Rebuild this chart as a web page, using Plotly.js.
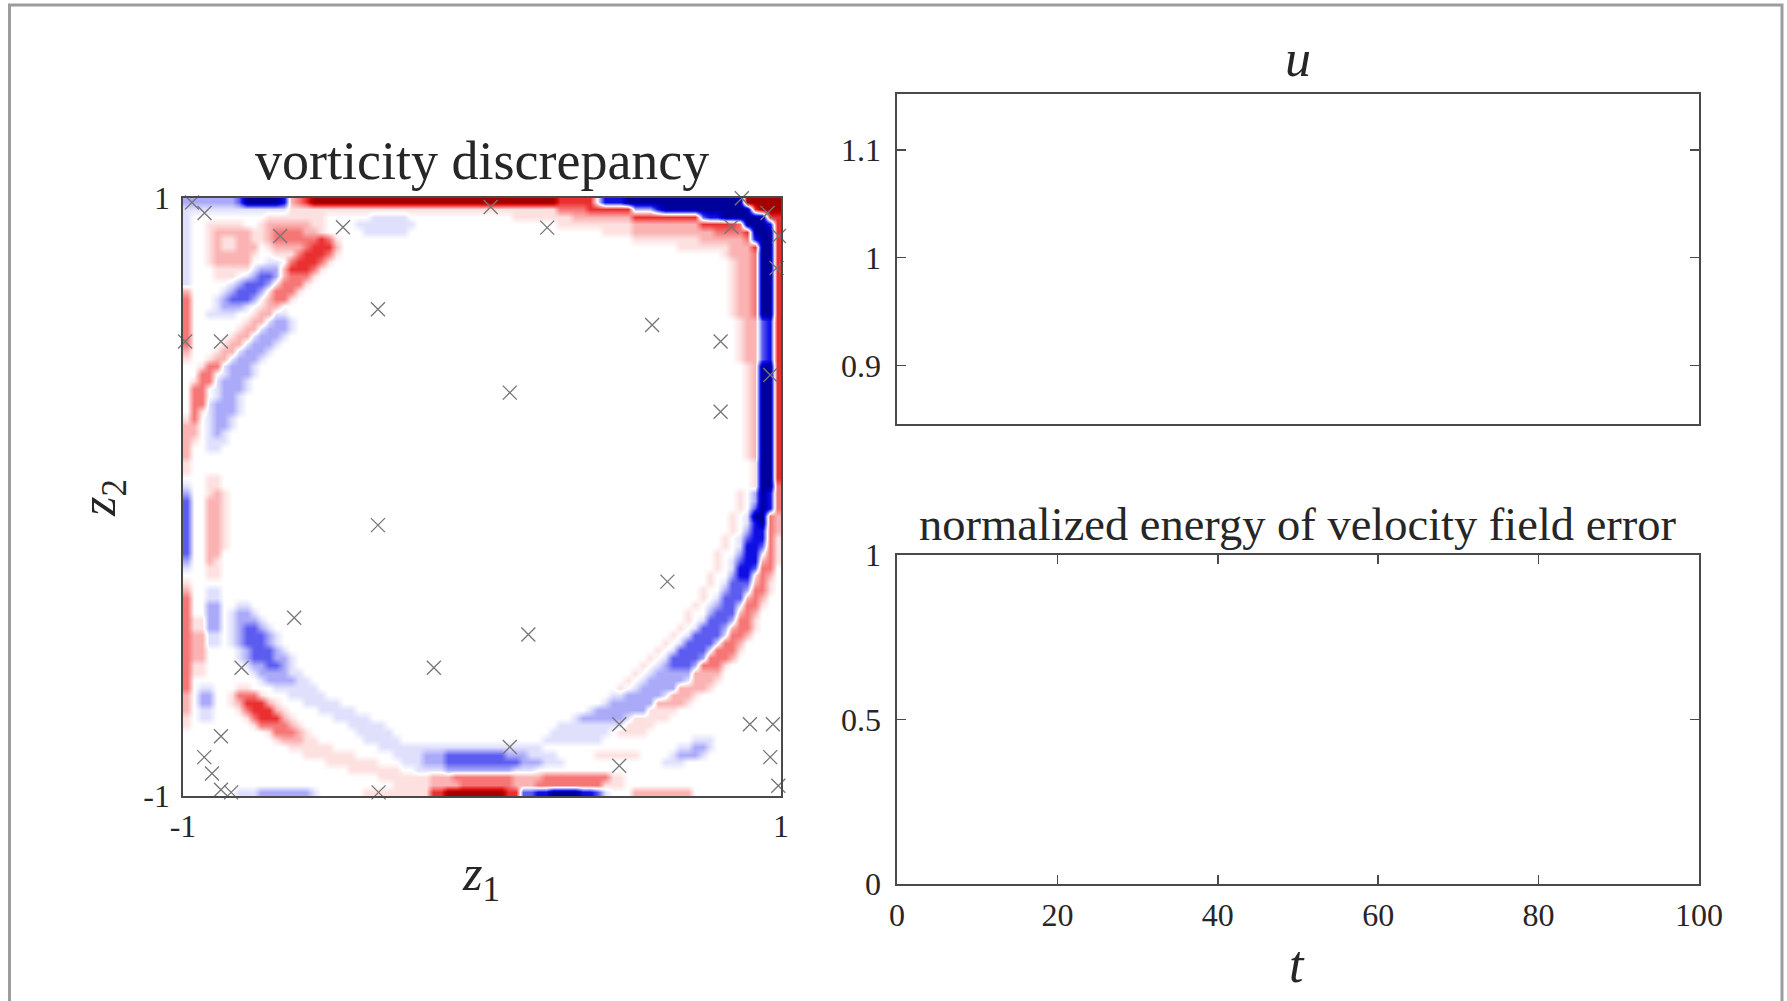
<!DOCTYPE html>
<html><head><meta charset="utf-8">
<script src="https://cdn.plot.ly/plotly-3.0.1.min.js"></script>
<style>html,body{margin:0;padding:0;background:#fff;overflow:hidden}#chart{width:1787px;height:1001px}</style>
</head><body><div id="chart"></div>
<script>
// ---------- data ----------
// vorticity discrepancy on an 80 x 80 grid (row 0 = top, z2 = 1), runs "from-to=level"
const gridSize = 80;
const levelValues = {'.':0,'1':0.08,'2':0.2,'3':0.38,'4':0.58,'5':0.95,'a':-0.08,'b':-0.22,'c':-0.42,'d':-0.65,'e':-0.95};
const vorticityRows = [
"0-6=b 7=c 8-12=e 13=d 14=2 15=3 16=4 17-49=5 50-54=4 55=a 56-58=d 59-74=e 75-79=5",
"0-13=a 14-49=1 50-53=3 54-59=4 60-62=b 63=d 64-75=e 76=4 77-79=5",
"0=a 11-18=1 25-29=a 44-51=1 52-59=2 60-68=4 69=c 70-71=d 72-77=e 78-79=4",
"0=a 3-7=1 10=1 11-16=2 17-18=1 23-30=a 50-59=1 60-68=2 69-73=4 74=3 75-77=e 78=d 79=4",
"0=a 3=1 4-8=2 9=1 10=1 11=2 12-15=3 16-17=2 18=1 24-29=a 56-59=1 60-70=2 71-74=3 75=4 76-78=e 79=4",
"0=a 3=1 4=2 5-6=1 7-8=2 9=1 10=1 11=2 12-17=3 18=4 19=3 20=1 60-68=1 69-74=2 75=3 76=d 77-78=e 79=4",
"0=a 3=1 4=2 5-6=1 7-9=2 11=1 12-15=2 16=3 17-19=4 20=2 66-72=1 73-75=2 76=4 77-78=e 79=4",
"0=a 3=1 4-8=2 9=1 12-14=1 15=3 16-18=4 19=3 20=1 72=1 73-75=2 76=3 77-78=e 79=4",
"0=a 3=1 4-8=2 11-12=a 14=3 15-17=4 18=3 19=1 73=1 74-75=2 76=3 77-78=e 79=4",
"0=a 4-8=1 9=a 10-12=b 13=2 14-16=4 17=3 18=1 73=1 74-75=2 76=3 77-78=e 79=4",
"0=a 4-6=1 8=a 9=b 10-11=c 12=b 13=2 14-16=3 17=1 73=1 74-75=2 76=3 77-78=e 79=4",
"0=a 6=a 7=b 8-10=c 11=b 12=1 13-15=3 16=1 73=1 74-75=2 76=3 77-78=e 79=4",
"0=2 5=a 6=b 7-9=c 10=b 11=1 12-14=3 15=1 73=1 74-75=2 76=3 77-78=e 79=4",
"0=3 4=a 5=b 6-8=c 9=b 11=2 12-13=3 14=1 73=1 74-75=2 76=3 77-78=e 79=4",
"0=3 4=a 5-7=b 8=a 10=1 11-12=2 73=1 74-75=2 76=3 77-78=e 79=4",
"0=3 3-6=a 9=1 10-11=2 12-13=a 73=1 74-75=2 76=3 77-78=e 79=4",
"0=3 8=1 9-10=2 11=a 12-13=b 14=a 74=1 75-76=2 77=c 78=d 79=4",
"0=3 7=1 8-9=2 10=a 11-13=b 14=a 74=1 75-76=2 77=c 78=d 79=4",
"0=3 6=1 7-8=2 9=a 10-12=b 13=a 74=1 75-76=2 77=c 78=d 79=4",
"0=3 5=1 6-7=2 8=a 9-11=b 12=a 74=1 75-76=2 77=c 78=d 79=4",
"0=2 4=1 5-6=2 7=a 8-10=b 11=a 74=1 75-76=2 77=c 78=d 79=4",
"0=1 3=1 4-5=2 6=a 7-9=b 10=a 74=1 75-76=2 77=c 78=d 79=4",
"2=1 3-4=3 5=a 6-8=b 9=a 75=1 76=2 77-78=e 79=4",
"2-3=3 5=a 6-8=b 9=a 75=1 76=2 77-78=e 79=4",
"1=1 2-3=3 4=a 5-7=b 8=a 75=1 76=2 77-78=e 79=4",
"1-2=3 4=a 5-7=b 8=a 75=1 76=2 77-78=e 79=4",
"1-2=3 4=a 5-6=b 7=a 75=1 76=2 77-78=e 79=4",
"1-2=3 3=a 4-6=b 7=a 75=1 76=2 77-78=e 79=4",
"1=3 2=1 3=a 4-6=b 7=a 75=1 76=2 77-78=e 79=4",
"0=1 1=3 3=a 4-5=b 6=a 75=1 76=2 77-78=e 79=4",
"0-1=2 3=a 4-5=b 6=a 75=1 76=2 77-78=e 79=4",
"0-1=2 3=a 4=b 5=a 75=1 76=2 77-78=e 79=4",
"0=2 1=1 3-5=a 75=1 76=2 77-78=e 79=4",
"0=2 3-4=a 75=1 76=2 77-78=e 79=4",
"0=2 75=1 76=2 77-78=e 79=4",
"0=1 76=1 77-78=e 79=4",
"0=1 76=1 77-78=e 79=4",
"3-4=1 76=1 77-78=e 79=4",
"0=a 3-4=1 76=1 77-78=e 79=3",
"0=b 3=1 4=2 5=1 74=1 76=b 77=e 78=d 79=3",
"0=c 3-4=2 5=1 74=1 76=b 77=e 78=d 79=3",
"0=c 3-4=2 5=1 74=1 76=c 77=e 78=d 79=3",
"0=c 3-4=2 5=1 73=1 75=a 76-77=e 78=3 79=2",
"0=c 3-4=2 5=1 73=1 75=a 76=d 77=e 78=3 79=2",
"0=c 3-4=2 5=1 73=1 75=b 76-77=d 78=3 79=2",
"0=c 3-4=2 5=1 72=1 74=a 75=c 76-77=d 78=3 79=1",
"0=c 3-4=2 5=1 72=1 74=a 75-76=d 77=c 78=3 79=1",
"0=c 3-4=2 71=1 74=b 75-76=d 77=a 78=3 79=1",
"0=b 3=2 4=1 71=1 73=a 74=c 75-76=d 77=2 78=3 79=1",
"0=a 3-4=1 71=1 73=a 74-75=d 76=c 77-78=3",
"3-4=1 70=1 73=b 74-75=d 76=1 77=3 78=2",
"0=1 70=1 72=a 73-75=c 76=2 77=3 78=1",
"0=2 3-4=a 69=1 72=b 73-74=c 75=b 76-77=3 78=1",
"0=3 3-4=a 69=1 71=a 72-74=c 75=2 76=3 77=2",
"0=3 3-4=b 7-8=a 68=1 70=a 71=b 72-73=c 74=a 75-76=3 77=1",
"0=3 3-4=b 6=a 7-8=b 9=a 67=1 70=b 71-73=c 74=2 75=3 76=2",
"0=3 1-2=1 3-4=b 6=a 7-9=b 10=a 67=1 69=a 70-72=c 73=b 74-75=3 76=1",
"0=3 1-2=1 3-4=b 6=a 7=b 8-9=c 10=b 11=a 66=1 68=a 69-71=c 72=b 73=2 74-75=3 76=1",
"0=3 1-2=2 3-4=a 6=a 7=b 8-10=c 11=b 12=a 65=1 67=a 68-71=c 72=a 73-74=3 75=2",
"0=3 1-2=2 3-4=a 6=a 7=b 8-10=c 11=b 12=a 64=1 66=a 67-70=c 71=a 72-73=3 74=2",
"0=3 1-2=2 7=a 8=b 9-11=c 12=b 13=a 63=1 65=a 66-69=c 70=a 71-73=3 74=1",
"0=3 1-2=2 7=a 8=b 9-11=c 12-13=b 14=a 62=1 64=a 65-68=c 69=b 70-72=3 73=2",
"0=3 1-2=1 8=a 9-10=b 11-12=c 13=b 14=a 61=1 63=a 64=b 65-67=c 68=b 69-71=3 72=1",
"0=3 1-2=1 9=a 10-13=b 14-15=a 60=1 62=a 63-67=b 68-71=2",
"0=3 10=a 11-14=b 15-16=a 59=1 61=a 62-66=b 67=a 68-70=2 71=1",
"0=3 2-3=a 7-8=1 12-17=a 58=1 60=a 61-65=b 66-69=2 70=1",
"0=2 2-3=b 6=1 7-9=3 10=1 14-18=a 57-58=a 59-63=b 64=a 65-67=2 68=1",
"0=2 2-3=b 6=1 7=2 8-10=4 11=2 12=1 16-20=a 56=a 57-62=b 63-66=2 67=1",
"0=2 2-3=a 7=1 8=3 9-11=4 12=2 13=1 18-22=a 54=a 55-61=b 62-65=1",
"0=1 2-3=a 8=1 9=3 10-12=4 13=2 14=1 20-24=a 52=a 53-58=b 59=a 60-64=1",
"0=1 9=1 10-13=3 14=2 15=1 22-26=a 50-58=a 59-62=1",
"11=1 12-14=3 15=2 16=1 23-27=a 49-56=a 58-61=1",
"12=1 13-15=2 16-17=1 24-28=a 48-55=a 68-70=a",
"14-19=1 26-47=a 66-67=a 68-69=b 70=a",
"16-22=1 28-31=a 32-34=b 35-42=c 43-45=b 46-49=a 55-60=1 65=a 66-68=b 69=a",
"19-25=1 29-31=a 32-34=b 35-44=c 45-47=b 48-50=a 64-66=a",
"22-28=1 31-34=a 35-43=b 44-46=a",
"26-32=1 33-35=2 36-43=3 44-47=2 48-56=3 57-58=1",
"28-32=1 33-36=2 37-43=3 44-46=2 47-55=3 56-58=1",
"7-9=a 10-16=b 17=a 24-32=1 33-34=4 35-42=5 43-44=4 45-46=c 47-48=d 49-52=e 53-54=d 55=c 56=a 60-67=2"
];
// sensor locations (crosses)
const sensorZ1 = [-0.970,-0.928,-0.721,-0.675,-0.465,0.029,0.218,0.869,0.834,0.955,0.993,0.985,0.964,-0.348,0.569,0.798,-0.993,-0.873,0.093,0.798,-0.348,0.620,-0.628,0.155,-0.804,-0.161,0.459,0.896,0.973,-0.873,0.093,-0.929,0.964,-0.903,0.459,-0.873,-0.839,-0.346,0.991];
const sensorZ2 = [0.985,0.950,1.007,0.873,0.902,0.970,0.901,0.999,0.904,0.950,0.873,0.766,0.408,0.628,0.575,0.520,0.520,0.520,0.349,0.285,-0.094,-0.283,-0.404,-0.460,-0.571,-0.571,-0.760,-0.760,-0.760,-0.800,-0.836,-0.870,-0.870,-0.925,-0.899,-0.979,-0.988,-0.988,-0.966];
const heatTickVals = [-1, 1];
const heatTickText = ['-1', '1'];
// time series (empty in this frame)
const uTime = [];
const uValues = [];
const errTime = [];
const errValues = [];
const uTickVals = [0.9, 1, 1.1];
const uTickText = ['0.9', '1', '1.1'];
const errTickVals = [0, 0.5, 1];
const errTickText = ['0', '0.5', '1'];
const tTickVals = [0, 20, 40, 60, 80, 100];
const tTickText = ['0', '20', '40', '60', '80', '100'];

// ---------- build the field ----------
function parseRow(s) {
  const row = new Array(gridSize).fill(0);
  s.split(' ').forEach(tok => {
    if (!tok) return;
    const [rng, ch] = tok.split('=');
    const parts = rng.split('-').map(Number);
    const a = parts[0], b = parts.length > 1 ? parts[1] : parts[0];
    for (let i = a; i <= b; i++) row[i] = levelValues[ch];
  });
  return row;
}
const zTopDown = vorticityRows.map(parseRow);
const zField = zTopDown.slice().reverse();
const cellX = [], cellY = [];
for (let i = 0; i < gridSize; i++) {
  cellX.push(-1 + (i + 0.5) * 2 / gridSize);
  cellY.push(-1 + (i + 0.5) * 2 / gridSize);
}

const W = 1787, H = 1001;
const px = v => v / W;
const py = v => 1 - v / H;
const serif = "'Liberation Serif', 'Times New Roman', serif";
const ink = '#262626';
const axisLine = '#4a4a4a';

const traces = [
  {
    type: 'heatmap', x: cellX, y: cellY, z: zField, zmin: -1, zmax: 1,
    zsmooth: 'best', showscale: false, hoverinfo: 'skip', xaxis: 'x', yaxis: 'y',
    colorscale: [
      [0, 'rgb(0,0,140)'], [0.1, 'rgb(0,0,200)'], [0.2, 'rgb(20,20,235)'],
      [0.3, 'rgb(100,100,240)'], [0.4, 'rgb(178,178,250)'],
      [0.5, 'rgb(255,255,255)'],
      [0.6, 'rgb(250,178,178)'], [0.7, 'rgb(245,110,110)'], [0.8, 'rgb(232,40,40)'],
      [0.9, 'rgb(200,0,0)'], [1, 'rgb(150,0,0)']
    ]
  },
  {
    type: 'scatter', mode: 'markers', x: sensorZ1, y: sensorZ2, xaxis: 'x', yaxis: 'y',
    cliponaxis: false, hoverinfo: 'skip',
    marker: { symbol: 'x-thin-open', size: 14, line: { width: 1.3, color: '#767676' }, color: '#767676' }
  },
  { type: 'scatter', mode: 'lines', x: uTime, y: uValues, xaxis: 'x2', yaxis: 'y2', line: { color: '#0072bd', width: 2 } },
  { type: 'scatter', mode: 'lines', x: errTime, y: errValues, xaxis: 'x3', yaxis: 'y3', line: { color: '#0072bd', width: 2 } }
];

const tickFont = { family: serif, size: 32, color: ink };
const baseAxis = {
  showgrid: false, zeroline: false, showline: true, linecolor: axisLine, linewidth: 1.6,
  tickfont: tickFont, tickcolor: axisLine, tickwidth: 1.4, fixedrange: true
};

const layout = {
  width: W, height: H,
  margin: { l: 0, r: 0, t: 0, b: 0, pad: 0 },
  paper_bgcolor: '#ffffff', plot_bgcolor: '#ffffff',
  showlegend: false,
  xaxis: Object.assign({}, baseAxis, {
    domain: [px(183), px(781)], anchor: 'y', range: [-1, 1],
    tickmode: 'array', tickvals: heatTickVals, ticktext: heatTickText,
    ticks: '', mirror: true, ticklabelstandoff: 1
  }),
  yaxis: Object.assign({}, baseAxis, {
    domain: [py(796), py(198)], anchor: 'x', range: [-1, 1],
    tickmode: 'array', tickvals: heatTickVals, ticktext: heatTickText,
    ticks: '', mirror: true, ticklabelstandoff: 5
  }),
  xaxis2: Object.assign({}, baseAxis, {
    domain: [px(897), px(1699)], anchor: 'y2', range: [0, 100],
    showticklabels: false, ticks: '', mirror: true
  }),
  yaxis2: Object.assign({}, baseAxis, {
    domain: [py(424), py(93.5)], anchor: 'x2', range: [0.8455, 1.1524],
    tickmode: 'array', tickvals: uTickVals, ticktext: uTickText,
    ticks: 'inside', ticklen: 9, mirror: 'ticks', ticklabelstandoff: 8
  }),
  xaxis3: Object.assign({}, baseAxis, {
    domain: [px(897), px(1699)], anchor: 'y3', range: [0, 100],
    tickmode: 'array', tickvals: tTickVals, ticktext: tTickText,
    ticks: 'inside', ticklen: 9, mirror: 'ticks', ticklabelstandoff: 2
  }),
  yaxis3: Object.assign({}, baseAxis, {
    domain: [py(884), py(555)], anchor: 'x3', range: [0, 1],
    tickmode: 'array', tickvals: errTickVals, ticktext: errTickText,
    ticks: 'inside', ticklen: 9, mirror: 'ticks', ticklabelstandoff: 8
  }),
  shapes: [
    { type: 'rect', xref: 'paper', yref: 'paper', x0: px(9.5), x1: px(1782), y0: -0.02, y1: py(5),
      line: { color: '#9c9c9c', width: 3 }, fillcolor: 'rgba(0,0,0,0)' }
  ],
  annotations: [
    { text: 'vorticity discrepancy', xref: 'paper', yref: 'paper', x: px(482), y: py(161),
      xanchor: 'center', yanchor: 'middle', showarrow: false, font: { family: serif, size: 54, color: ink } },
    { text: '<i>u</i>', xref: 'paper', yref: 'paper', x: px(1298), y: py(58),
      xanchor: 'center', yanchor: 'middle', showarrow: false, font: { family: serif, size: 52, color: ink } },
    { text: 'normalized energy of velocity field error', xref: 'paper', yref: 'paper', x: px(1298), y: py(524),
      xanchor: 'center', yanchor: 'middle', showarrow: false, font: { family: serif, size: 46.5, color: ink } },
    { text: '<i>t</i>', xref: 'paper', yref: 'paper', x: px(1297), y: py(964),
      xanchor: 'center', yanchor: 'middle', showarrow: false, font: { family: serif, size: 52, color: ink } },
    { text: '<i>z</i><sub>1</sub>', xref: 'paper', yref: 'paper', x: px(481), y: py(877),
      xanchor: 'center', yanchor: 'middle', showarrow: false, font: { family: serif, size: 50, color: ink } },
    { text: '<i>z</i><sub>2</sub>', xref: 'paper', yref: 'paper', x: px(102), y: py(498), textangle: -90,
      xanchor: 'center', yanchor: 'middle', showarrow: false, font: { family: serif, size: 50, color: ink } }
  ]
};

Plotly.newPlot('chart', traces, layout, { staticPlot: true, displayModeBar: false });
</script>
</body></html>
